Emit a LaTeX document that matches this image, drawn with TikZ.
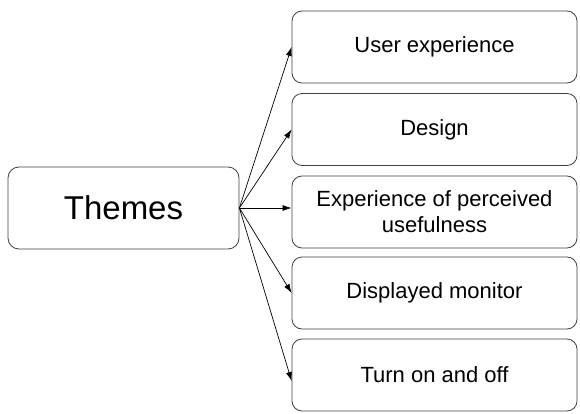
\documentclass[tikz,border=0pt]{standalone}
\usepackage{fontspec}
\setmainfont{Liberation Sans}
\usetikzlibrary{arrows.meta}
\begin{document}
\begin{tikzpicture}[x=1pt,y=1pt,
  themebox/.style={draw=black!75, line width=0.8pt, rounded corners=11pt, minimum width=231pt, minimum height=82pt, align=center, inner sep=0pt, font=\fontsize{33}{38}\selectfont},
  itembox/.style={draw=black!75, line width=0.8pt, rounded corners=10pt, minimum width=285pt, minimum height=72pt, align=center, inner sep=0pt, font=\fontsize{22}{26}\selectfont},
  link/.style={draw=black, line width=0.7pt, -{Latex[length=9pt,width=6pt]}}]
\useasboundingbox (0,0) rectangle (580,-414);
\node[themebox] (th) at (123.5,-208) {Themes};
\node[itembox] (b1) at (434.5,-47) {User experience};
\node[itembox] (b2) at (434.5,-129.5) {Design};
\node[itembox] (b3) at (434.5,-212) {Experience of perceived\\usefulness};
\node[itembox] (b4) at (434.5,-293) {Displayed monitor};
\node[itembox] (b5) at (434.5,-375) {Turn on and off};
\draw[link] (th.east) -- (b1.west);
\draw[link] (th.east) -- (b2.west);
\draw[link] (th.east) -- (th.east -| b3.west);
\draw[link] (th.east) -- (b4.west);
\draw[link] (th.east) -- ([yshift=-6pt]b5.west);
\end{tikzpicture}
\end{document}
